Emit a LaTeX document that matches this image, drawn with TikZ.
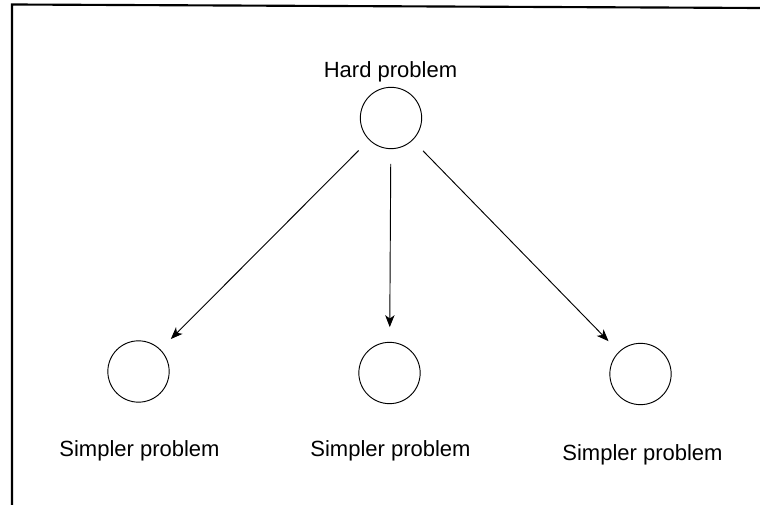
\documentclass[tikz,border=0pt]{standalone}
\usepackage{fontspec}
\setmainfont{Liberation Sans}
\usetikzlibrary{arrows.meta}

\begin{document}
\begin{tikzpicture}[x=0.75pt,y=-0.75pt,>={Stealth[length=9pt,width=7pt,inset=2.5pt]},
      every node/.style={font=\fontsize{16.5}{20}\selectfont},
      problem/.style={draw,circle,minimum size=46pt,inner sep=0pt,line width=0.7pt},
      split/.style={->,line width=0.7pt,shorten <=11pt,shorten >=11pt}]
      \useasboundingbox (0,0) rectangle (760,505);
      % frame, cut off at the right and bottom
      \draw[line width=1.6pt] (12,505) -- (12,4.5) -- (760,8);
      \node[problem] (p_0) at (391,118) {};
      \node[problem] (p_1) at (138.5,371.5) {};
      \node[problem] (p_2) at (389.5,373) {};
      \node[problem] (p_3) at (640.5,374) {};
      \node[anchor=base] (t_0) at (390.5,78) {Hard problem};
      \node[anchor=base] (t_1) at (139.5,457) {Simpler problem};
      \node[anchor=base] (t_2) at (390.5,457) {Simpler problem};
      \node[anchor=base] (t_3) at (642.5,460) {Simpler problem};
      \path[split]
      (p_0) edge (p_1)
      (p_0) edge (p_2)
      (p_0) edge (p_3);
    \end{tikzpicture}
\end{document}
